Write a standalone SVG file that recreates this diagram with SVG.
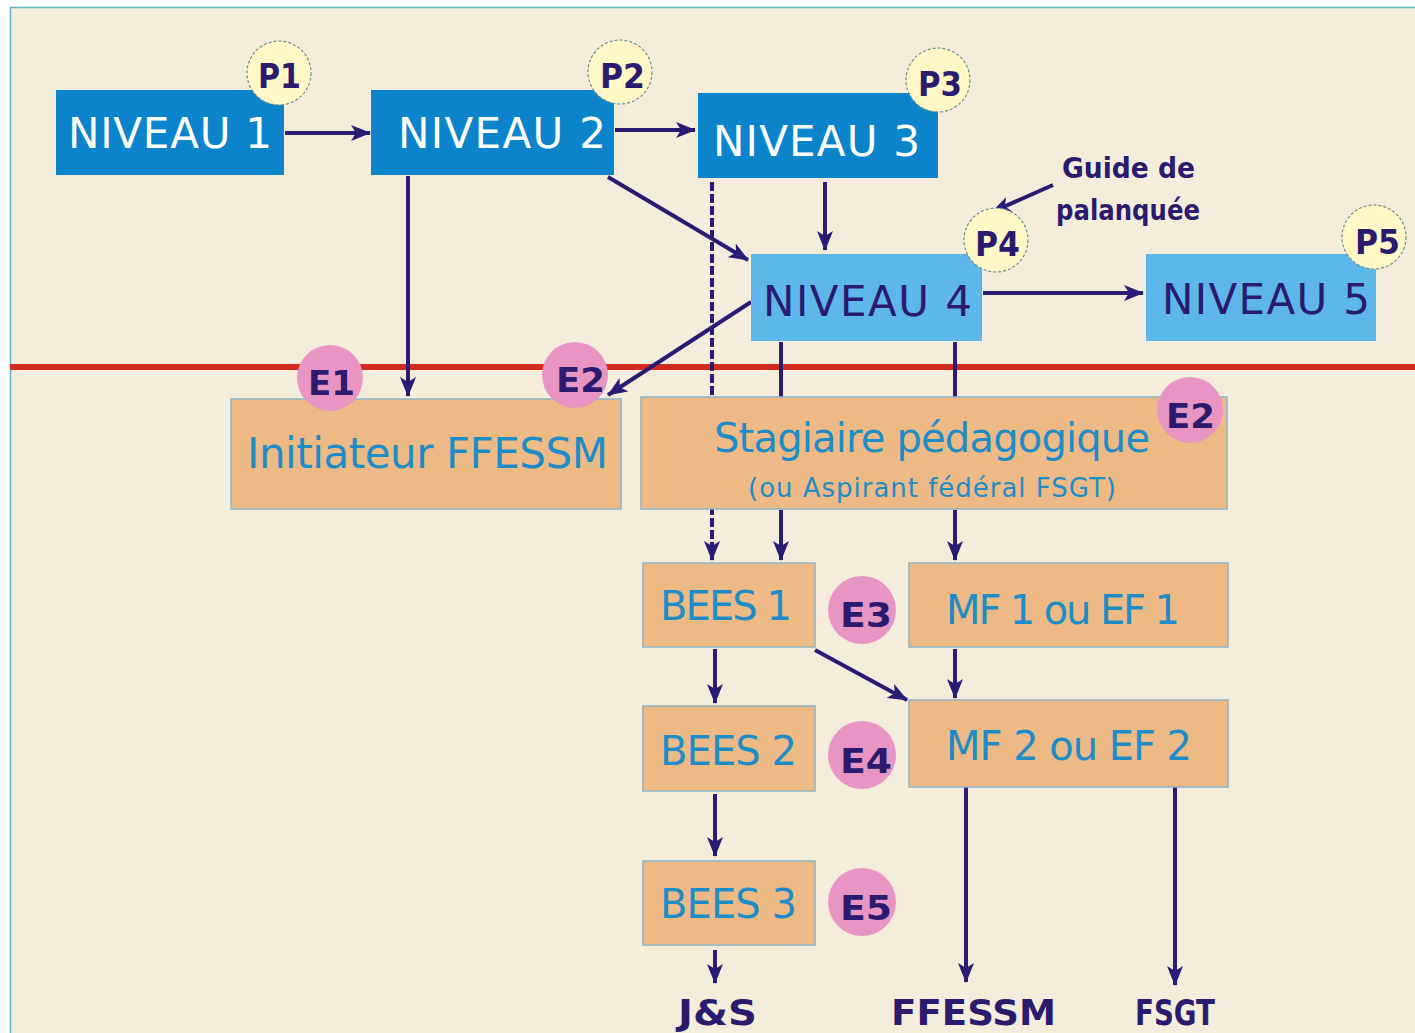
<svg xmlns="http://www.w3.org/2000/svg" width="1415" height="1033" viewBox="0 0 1415 1033">
<defs>
<style>
.bg{fill:#F4EDDB;stroke:#62B3C9;stroke-width:1.5}
.dk{fill:#0B84CB}
.lt{fill:#5DB7EB}
.or{fill:#EDBA86;stroke:#8FB3C2;stroke-width:1.5}
.wt{font-family:"DejaVu Sans",sans-serif;font-size:42px;fill:#FFFFFF}
.nt{font-family:"DejaVu Sans",sans-serif;font-size:42px;fill:#2B1A6E}
.tt{font-family:"DejaVu Sans",sans-serif;fill:#1E8CC6}
.bd{font-family:"DejaVu Sans",sans-serif;font-weight:bold;fill:#2B1A6E}
.pc{fill:#FFF7C6;stroke:#6E8C8C;stroke-width:1.2;stroke-dasharray:3 2}
.ec{fill:#E995C4}
.cn{stroke:#2A1C74;stroke-width:4;fill:none}
</style>
<marker id="ah" viewBox="0 0 20 16" refX="19" refY="8" markerWidth="20" markerHeight="16" orient="auto" markerUnits="userSpaceOnUse">
<path d="M0,0 L20,8 L0,16 L5,8 Z" fill="#2A1C74"/>
</marker>
</defs>
<rect x="0" y="0" width="1415" height="1033" fill="#FFFFFF"/>
<rect class="bg" x="10.5" y="7.5" width="1410" height="1030"/>
<line x1="10" y1="367" x2="1415" y2="367" stroke="#D42A20" stroke-width="6"/>

<g id="connectors">
<line class="cn" x1="285" y1="133" x2="370" y2="133" marker-end="url(#ah)"/>
<line class="cn" x1="615" y1="130" x2="695" y2="130" marker-end="url(#ah)"/>
<line class="cn" x1="608" y1="177" x2="748" y2="260" marker-end="url(#ah)"/>
<line class="cn" x1="825" y1="182" x2="825" y2="250" marker-end="url(#ah)"/>
<line class="cn" x1="983" y1="293" x2="1143" y2="293" marker-end="url(#ah)"/>
<line class="cn" x1="1053" y1="185" x2="992" y2="212" marker-end="url(#ah)"/>
<line class="cn" x1="408" y1="176" x2="408" y2="396" marker-end="url(#ah)"/>
<line class="cn" x1="751" y1="302" x2="608" y2="395" marker-end="url(#ah)"/>
<line class="cn" x1="712" y1="182" x2="712" y2="560" stroke-dasharray="9 3" marker-end="url(#ah)"/>
<line class="cn" x1="781" y1="342" x2="781" y2="397"/>
<line class="cn" x1="955" y1="342" x2="955" y2="397"/>
<line class="cn" x1="781" y1="510" x2="781" y2="560" marker-end="url(#ah)"/>
<line class="cn" x1="955" y1="510" x2="955" y2="560" marker-end="url(#ah)"/>
<line class="cn" x1="715" y1="649" x2="715" y2="703" marker-end="url(#ah)"/>
<line class="cn" x1="815" y1="650" x2="907" y2="700" marker-end="url(#ah)"/>
<line class="cn" x1="955" y1="649" x2="955" y2="698" marker-end="url(#ah)"/>
<line class="cn" x1="715" y1="794" x2="715" y2="856" marker-end="url(#ah)"/>
<line class="cn" x1="715" y1="950" x2="715" y2="983" marker-end="url(#ah)"/>
<line class="cn" x1="966" y1="787" x2="966" y2="982" marker-end="url(#ah)"/>
<line class="cn" x1="1175" y1="787" x2="1175" y2="985" marker-end="url(#ah)"/>
</g>

<g id="n1">
<rect class="dk" x="56" y="90" width="228" height="85"/>
<text class="wt" x="68" y="148" textLength="204">NIVEAU 1</text>
</g>
<g id="p1">
<circle class="pc" cx="279" cy="73" r="32"/>
<text class="bd" x="258" y="88" font-size="33" textLength="43" lengthAdjust="spacingAndGlyphs">P1</text>
</g>
<g id="n2">
<rect class="dk" x="371" y="90" width="243" height="85"/>
<text class="wt" x="398" y="148" textLength="208">NIVEAU 2</text>
</g>
<g id="p2">
<circle class="pc" cx="620" cy="72" r="32"/>
<text class="bd" x="600" y="88" font-size="33" textLength="45" lengthAdjust="spacingAndGlyphs">P2</text>
</g>
<g id="n3">
<rect class="dk" x="698" y="93" width="240" height="85"/>
<text class="wt" x="713" y="156" textLength="207">NIVEAU 3</text>
</g>
<g id="p3">
<circle class="pc" cx="938" cy="80" r="32"/>
<text class="bd" x="918" y="96" font-size="33" textLength="44" lengthAdjust="spacingAndGlyphs">P3</text>
</g>
<g id="guide">
<text class="bd" x="1062" y="178" font-size="29" textLength="133" lengthAdjust="spacingAndGlyphs">Guide de</text>
<text class="bd" x="1056" y="220" font-size="29" textLength="144" lengthAdjust="spacingAndGlyphs">palanquée</text>
</g>
<g id="n4">
<rect class="lt" x="751" y="254" width="231" height="87"/>
<text class="nt" x="763" y="316" textLength="209">NIVEAU 4</text>
</g>
<g id="p4">
<circle class="pc" cx="996" cy="240" r="32"/>
<text class="bd" x="975" y="256" font-size="33" textLength="45" lengthAdjust="spacingAndGlyphs">P4</text>
</g>
<g id="n5">
<rect class="lt" x="1146" y="254" width="230" height="87"/>
<text class="nt" x="1162" y="314" textLength="208">NIVEAU 5</text>
</g>
<g id="p5">
<circle class="pc" cx="1374" cy="237" r="32"/>
<text class="bd" x="1355" y="254" font-size="33" textLength="45" lengthAdjust="spacingAndGlyphs">P5</text>
</g>

<g id="initiateur">
<rect class="or" x="231" y="399" width="390" height="110"/>
<text class="tt" x="247" y="468" font-size="42" textLength="361">Initiateur FFESSM</text>
</g>
<g id="e1">
<circle class="ec" cx="330" cy="378" r="33"/>
<text class="bd" x="308" y="395" font-size="34" textLength="47" lengthAdjust="spacingAndGlyphs">E1</text>
</g>
<g id="e2a">
<circle class="ec" cx="575" cy="375" r="33"/>
<text class="bd" x="556" y="392" font-size="34" textLength="49" lengthAdjust="spacingAndGlyphs">E2</text>
</g>
<g id="stagiaire">
<rect class="or" x="641" y="397" width="586" height="112"/>
<text class="tt" x="714" y="452" font-size="40" textLength="436">Stagiaire pédagogique</text>
<text class="tt" x="748" y="497" font-size="26" textLength="368">(ou Aspirant fédéral FSGT)</text>
</g>
<g id="e2b">
<circle class="ec" cx="1190" cy="410" r="33"/>
<text class="bd" x="1166" y="428" font-size="34" textLength="49" lengthAdjust="spacingAndGlyphs">E2</text>
</g>
<g id="bees1">
<rect class="or" x="643" y="563" width="172" height="84"/>
<text class="tt" x="660" y="620" font-size="40" textLength="132">BEES 1</text>
</g>
<g id="e3">
<circle class="ec" cx="862" cy="610" r="34"/>
<text class="bd" x="840" y="627" font-size="34" textLength="52" lengthAdjust="spacingAndGlyphs">E3</text>
</g>
<g id="mf1">
<rect class="or" x="909" y="563" width="319" height="84"/>
<text class="tt" x="946" y="624" font-size="40" textLength="234">MF 1 ou EF 1</text>
</g>
<g id="bees2">
<rect class="or" x="643" y="706" width="172" height="85"/>
<text class="tt" x="660" y="765" font-size="40" textLength="137">BEES 2</text>
</g>
<g id="e4">
<circle class="ec" cx="862" cy="755" r="34"/>
<text class="bd" x="840" y="773" font-size="34" textLength="52" lengthAdjust="spacingAndGlyphs">E4</text>
</g>
<g id="mf2">
<rect class="or" x="909" y="700" width="319" height="87"/>
<text class="tt" x="946" y="760" font-size="40" textLength="246">MF 2 ou EF 2</text>
</g>
<g id="bees3">
<rect class="or" x="643" y="861" width="172" height="84"/>
<text class="tt" x="660" y="918" font-size="40" textLength="137">BEES 3</text>
</g>
<g id="e5">
<circle class="ec" cx="862" cy="902" r="34"/>
<text class="bd" x="840" y="920" font-size="34" textLength="52" lengthAdjust="spacingAndGlyphs">E5</text>
</g>
<g id="js"><text class="bd" x="678" y="1025" font-size="35" textLength="79" lengthAdjust="spacingAndGlyphs">J&amp;S</text></g>
<g id="ffessm"><text class="bd" x="891" y="1025" font-size="35" textLength="165" lengthAdjust="spacingAndGlyphs">FFESSM</text></g>
<g id="fsgt"><text class="bd" x="1135" y="1025" font-size="35" textLength="80" lengthAdjust="spacingAndGlyphs">FSGT</text></g>
</svg>
